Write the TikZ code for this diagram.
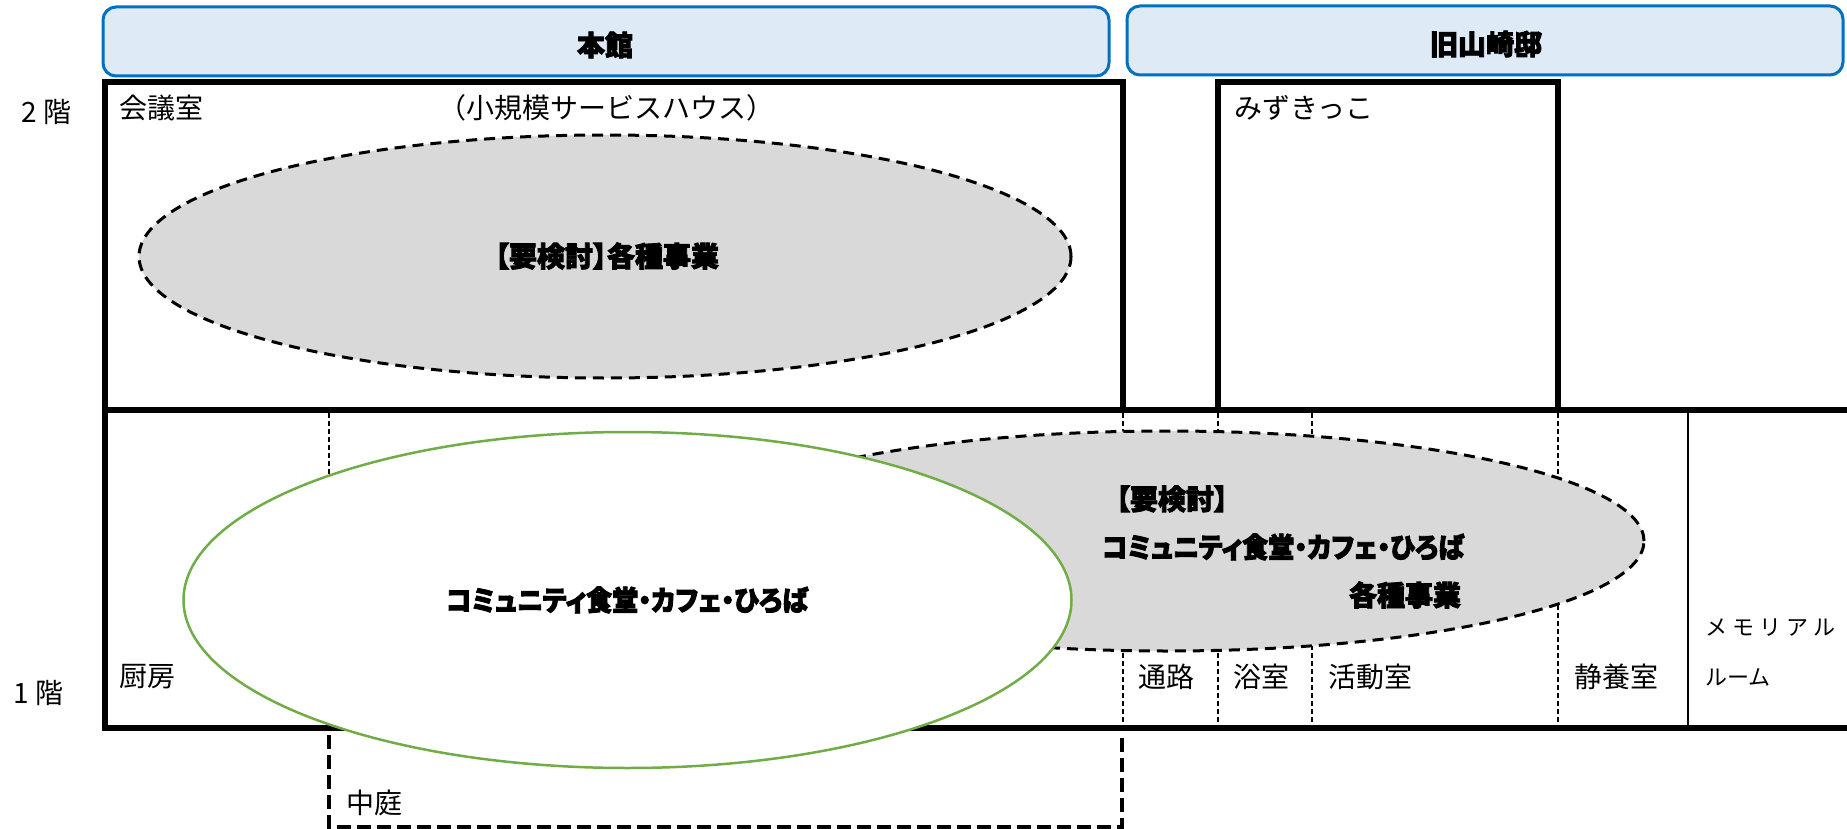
\documentclass[tikz,border=0pt]{standalone}
\usepackage{fontspec}
\setmainfont{Noto Sans CJK JP}
\newfontfamily\popfont[RawFeature=+palt,BoldFeatures={FakeBold=3}]{Noto Sans CJK JP}
\newfontfamily\popnarrow[RawFeature=+palt,BoldFeatures={FakeBold=3,FakeStretch=0.93}]{Noto Sans CJK JP}
\tikzset{
  wall/.style={line width=6pt,draw=black,line join=miter},
  partition/.style={line width=1.5pt,draw=black,dash pattern=on 5pt off 3pt},
  solidpart/.style={line width=2pt,draw=black},
  court/.style={line width=3.5pt,draw=black,dash pattern=on 14pt off 6pt},
  greyzone/.style={line width=3pt,draw=black,dash pattern=on 11pt off 7pt},
  greenzone/.style={line width=2.5pt,fill=white},
  header/.style={line width=3pt,draw=hdrline,fill=hdrfill,rounded corners=13pt},
  lbl/.style={inner sep=0pt,anchor=west,font=\fontsize{28}{32}\selectfont},
  floorlbl/.style={inner sep=0pt,anchor=west,font=\fontsize{28}{32}\selectfont},
  pop/.style={inner sep=0pt,font=\popfont\bfseries\fontsize{28}{32}\selectfont},
  popn/.style={inner sep=0pt,font=\popnarrow\bfseries\fontsize{28}{32}\selectfont},
}
\definecolor{hdrline}{HTML}{0070C0}
\definecolor{hdrfill}{HTML}{DEEAF6}
\definecolor{grnline}{HTML}{70AD47}
\definecolor{zonegrey}{HTML}{D9D9D9}
\begin{document}
\begin{tikzpicture}[x=1pt,y=-1pt]
\useasboundingbox (0,0) rectangle (1847,829);
% headers
\draw[header] (103,7) rectangle (1109,76);
\draw[header] (1127,6) rectangle (1843,75);
\node[pop] (hmain) at (605,45) {本館};
\node[pop] (hold) at (1486,44) {旧山崎邸};
% walls
\draw[wall] (105,82) rectangle (1123,410);
\draw[wall] (1218,82) rectangle (1558,410);
\draw[wall] (1847,410) -- (105,410) -- (105,728) -- (1847,728);
% partitions
\draw[partition] (329,413) -- (329,500);
\draw[partition] (1123,413) -- (1123,725);
\draw[partition] (1218,413) -- (1218,725);
\draw[partition] (1312,413) -- (1312,725);
\draw[partition] (1558,413) -- (1558,725);
\draw[solidpart] (1688,413) -- (1688,725);
% courtyard
\draw[court] (329,735) -- (329,827) -- (1122,827) -- (1122,735);
% zones
\draw[greyzone,fill=zonegrey] (605,256.5) ellipse [x radius=466pt,y radius=121.5pt];
\draw[greyzone,fill=zonegrey] (1167,541) ellipse [x radius=477pt,y radius=110pt];
\draw[greenzone,draw=grnline] (627.5,600) ellipse [x radius=444pt,y radius=168pt];
% labels
\node[floorlbl] (f2) at (21,112) {2 階};
\node[floorlbl] (f1) at (13,693) {1 階};
\node[lbl] (kaigi) at (119,108) {会議室};
\node[lbl,anchor=center] (shokibo) at (606,108) {（小規模サービスハウス）};
\node[lbl] (mizuki) at (1234,108) {みずきっこ};
\node[pop] (z1) at (607,256) {【要検討】各種事業};
\node[popn] (z3) at (627,600) {コミュニティ食堂・カフェ・ひろば};
\node[pop] (z2a) at (1172,499) {【要検討】};
\node[popn] (z2b) at (1283,547) {コミュニティ食堂・カフェ・ひろば};
\node[pop] (z2c) at (1405,595) {各種事業};
\node[lbl] (kitchen) at (119,677) {厨房};
\node[lbl] (tsuro) at (1138,677) {通路};
\node[lbl] (yoku) at (1233,677) {浴室};
\node[lbl] (katsu) at (1328,677) {活動室};
\node[lbl] (seiyo) at (1574,677) {静養室};
\node[inner sep=0pt,anchor=west,font=\fontsize{22}{26}\selectfont] (mem1) at (1705,628) {メ\kern5ptモ\kern5ptリ\kern5ptア\kern5ptル};
\node[inner sep=0pt,anchor=west,font=\fontsize{22}{26}\selectfont] (mem2) at (1705,677) {ルーム};
\node[lbl] (naka) at (346,803) {中庭};
\end{tikzpicture}
\end{document}
